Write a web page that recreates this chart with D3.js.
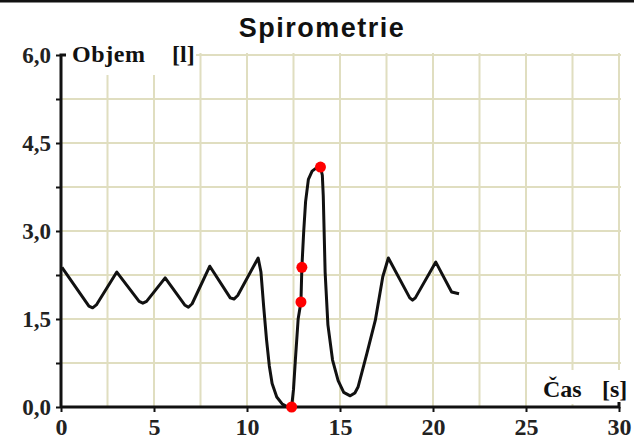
<!DOCTYPE html>
<html><head><meta charset="utf-8">
<script src="https://cdn.jsdelivr.net/npm/d3@7"></script>
<style>body{margin:0;background:#fff}svg{display:block}</style>
</head><body>
<script>
// Data
const time   = [0.05,1.5,1.7,1.9,3.0,4.2,4.4,4.6,5.6,6.65,6.85,7.05,8.0,9.1,9.3,9.5,10.6,
                10.75,10.9,11.05,11.2,11.35,11.6,11.9,12.2,12.4,
                12.5,12.6,12.75,12.9,12.95,13.05,13.15,13.3,13.5,13.75,13.95,14.05,14.1,14.2,14.35,14.6,14.9,15.2,15.55,15.8,15.97,16.45,16.9,17.3,17.6,
                18.75,18.9,19.05,20.15,21.0,21.4];
const volume = [2.38,1.72,1.69,1.74,2.30,1.80,1.77,1.80,2.20,1.74,1.70,1.76,2.40,1.86,1.84,1.90,2.54,
                2.3,1.7,1.15,0.7,0.4,0.17,0.05,0.0,0.0,
                0.3,0.8,1.5,1.79,2.38,3.0,3.5,3.88,4.02,4.08,4.09,3.95,3.6,2.3,1.4,0.8,0.45,0.25,0.19,0.24,0.34,0.92,1.48,2.22,2.54,
                1.86,1.82,1.86,2.47,1.96,1.93];
const markTime   = [12.4,12.9,12.95,13.95];
const markVolume = [0.0,1.79,2.38,4.09];
const xTicks = [0,5,10,15,20,25,30];
const yTicks = [0,0.75,1.5,2.25,3.0,3.75,4.5,5.25,6.0];
const yLabelled = [0,1.5,3.0,4.5,6.0];
const xGrid = [2.5,5,7.5,10,12.5,15,17.5,20,22.5,25,27.5,30];
const yGrid = [0.75,1.5,2.25,3.0,3.75,4.5,5.25,6.0];
const title = "Spirometrie";
const yTitle = "Objem", yUnit = "[l]";
const xTitle = "Čas", xUnit = "[s]";

const W = 634, H = 440;
const svg = d3.select("body").append("svg").attr("width", W).attr("height", H);
const x = d3.scaleLinear().domain([0,30]).range([61,619]);
const y = d3.scaleLinear().domain([0,6]).range([407,55]);

svg.append("rect").attr("x",0).attr("y",0).attr("width",W).attr("height",2.5).attr("fill","#111");

const gridCol = "#e0dec0";
svg.append("g").selectAll("line").data(xGrid).join("line")
  .attr("x1", d=>x(d)).attr("x2", d=>x(d)).attr("y1", y(6)-2).attr("y2", y(0))
  .attr("stroke", gridCol).attr("stroke-width", 2);
svg.append("g").selectAll("line").data(yGrid).join("line")
  .attr("x1", x(0)).attr("x2", x(30)+2).attr("y1", d=>y(d)).attr("y2", d=>y(d))
  .attr("stroke", gridCol).attr("stroke-width", 2);

// Axis title boxes (white background)
const serif = "'Liberation Serif','DejaVu Serif',serif";
const yt = svg.append("g");
yt.append("rect").attr("x",66).attr("y",y(6)-8).attr("width",130).attr("height",28).attr("fill","#fff");
yt.append("text").attr("x",72).attr("y",62).text(yTitle).attr("letter-spacing",0.6)
  .attr("font-family",serif).attr("font-weight","bold").attr("font-size",24).attr("fill","#111");
yt.append("text").attr("x",172).attr("y",62).text(yUnit)
  .attr("font-family",serif).attr("font-weight","bold").attr("font-size",24).attr("fill","#111");

const xt = svg.append("g");
xt.append("rect").attr("x",538).attr("y",370).attr("width",92).attr("height",34).attr("fill","#fff");
xt.append("text").attr("x",543).attr("y",397).text(xTitle)
  .attr("font-family",serif).attr("font-weight","bold").attr("font-size",24).attr("fill","#111");
xt.append("text").attr("x",602).attr("y",397).text(xUnit)
  .attr("font-family",serif).attr("font-weight","bold").attr("font-size",24).attr("fill","#111");

// Axes
const fmt = d => yLabelled.includes(d) ? d3.format(".1f")(d).replace(".", ",") : "";
const ya = svg.append("g").attr("transform",`translate(${x(0)},0)`)
  .call(d3.axisLeft(y).tickValues(yTicks).tickSize(5).tickPadding(5).tickFormat(fmt));
ya.select(".domain").attr("d", `M5,${y(6)}H0V${y(0)}`).attr("stroke","#111").attr("stroke-width",3).attr("fill","none");
ya.selectAll(".tick line").attr("stroke","#111").attr("stroke-width",2);
ya.selectAll(".tick text").attr("font-family",serif).attr("font-weight","bold").attr("font-size",23)
  .attr("fill","#222").attr("dy","0.32em");

const xa = svg.append("g").attr("transform",`translate(0,${y(0)})`)
  .call(d3.axisBottom(x).tickValues(xTicks).tickSize(5).tickPadding(6).tickFormat(d3.format("d")));
xa.select(".domain").attr("d", `M${x(0)},0H${x(30)}V-5`).attr("stroke","#111").attr("stroke-width",3).attr("fill","none");
xa.selectAll(".tick line").attr("stroke","#111").attr("stroke-width",2);
xa.selectAll(".tick text").attr("font-family",serif).attr("font-weight","bold").attr("font-size",24).attr("fill","#222");

// Curve
const pts = time.map((t,i)=>[t, volume[i]]);
svg.append("path").datum(pts)
  .attr("d", d3.line().x(d=>x(d[0])).y(d=>y(d[1])).curve(d3.curveLinear))
  .attr("fill","none").attr("stroke","#111").attr("stroke-width",3).attr("stroke-linejoin","round");

svg.append("g").selectAll("circle").data(markTime).join("circle")
  .attr("cx", d=>x(d)).attr("cy", (d,i)=>y(markVolume[i])).attr("r",5.5).attr("fill","#f00");

// Title
svg.append("text").attr("x",322).attr("y",37).attr("text-anchor","middle").text(title).attr("letter-spacing",1.5)
  .attr("font-family","'Liberation Sans',Arial,sans-serif").attr("font-weight","bold").attr("font-size",27).attr("fill","#111");
</script>
</body></html>
